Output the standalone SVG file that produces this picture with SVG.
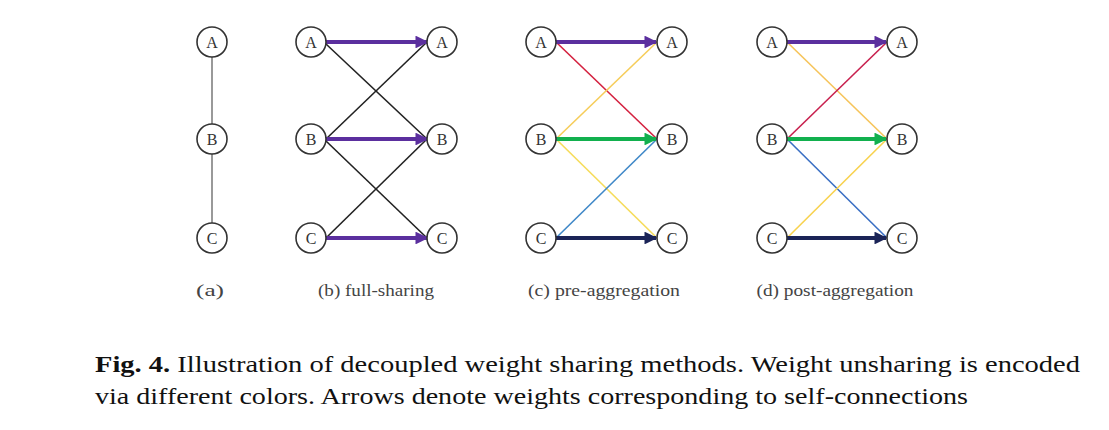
<svg xmlns="http://www.w3.org/2000/svg" width="1109" height="430" viewBox="0 0 1109 430">
<style>
.node circle{fill:#fff;stroke:#333;stroke-width:1.6}
.node text{font-family:"Liberation Serif",serif;font-size:16px;fill:#333;text-anchor:middle;dominant-baseline:central}
.sub{font-family:"Liberation Serif",serif;font-size:17px;fill:#444;text-anchor:middle}
.cap{font-family:"Liberation Serif",serif;font-size:24px;fill:#111}
.thin{stroke-width:1.6;fill:none}
.arr{stroke-width:4;fill:none}
</style>
<defs>
<marker id="mP" viewBox="0 0 10 10" refX="9" refY="5" markerWidth="3.2" markerHeight="3.2" orient="auto" markerUnits="strokeWidth"><path d="M0,0 L10,5 L0,10 z" fill="#5b2f9e"/></marker>
<marker id="mG" viewBox="0 0 10 10" refX="9" refY="5" markerWidth="3.2" markerHeight="3.2" orient="auto" markerUnits="strokeWidth"><path d="M0,0 L10,5 L0,10 z" fill="#12b04e"/></marker>
<marker id="mN" viewBox="0 0 10 10" refX="9" refY="5" markerWidth="3.2" markerHeight="3.2" orient="auto" markerUnits="strokeWidth"><path d="M0,0 L10,5 L0,10 z" fill="#1b2457"/></marker>
</defs>
<rect width="1109" height="430" fill="#fff"/>
<g id="connectors">
<line x1="212" y1="57" x2="212" y2="124" stroke="#999" stroke-width="2"/>
<line x1="212" y1="154" x2="212" y2="223" stroke="#999" stroke-width="2"/>
<line class="thin" x1="326" y1="44" x2="427" y2="139" stroke="#222"/>
<line class="thin" x1="326" y1="139" x2="427" y2="42" stroke="#222"/>
<line class="thin" x1="326" y1="141" x2="427" y2="238" stroke="#222"/>
<line class="thin" x1="326" y1="238" x2="427" y2="139" stroke="#222"/>
<line class="arr" x1="326" y1="42" x2="427" y2="42" stroke="#5b2f9e" marker-end="url(#mP)"/>
<line class="arr" x1="326" y1="139" x2="427" y2="139" stroke="#5b2f9e" marker-end="url(#mP)"/>
<line class="arr" x1="326" y1="238" x2="427" y2="238" stroke="#5b2f9e" marker-end="url(#mP)"/>
<line class="thin" x1="556" y1="42" x2="657" y2="139" stroke="#d4213f"/>
<line class="thin" x1="556" y1="139" x2="657" y2="42" stroke="#f6cd5a"/>
<line class="thin" x1="556" y1="139" x2="657" y2="238" stroke="#f6dc5a"/>
<line class="thin" x1="556" y1="238" x2="657" y2="139" stroke="#3f88c8"/>
<line class="arr" x1="556" y1="42" x2="656" y2="42" stroke="#5b2f9e" marker-end="url(#mP)"/>
<line class="arr" x1="556" y1="139" x2="656" y2="139" stroke="#12b04e" marker-end="url(#mG)"/>
<line class="arr" x1="556" y1="238" x2="656" y2="238" stroke="#1b2457" marker-end="url(#mN)"/>
<line class="thin" x1="787" y1="42" x2="887" y2="139" stroke="#f6c45a"/>
<line class="thin" x1="787" y1="139" x2="887" y2="42" stroke="#c8204e"/>
<line class="thin" x1="787" y1="139" x2="887" y2="238" stroke="#3a6fc4"/>
<line class="thin" x1="787" y1="238" x2="887" y2="139" stroke="#f8d24e"/>
<line class="arr" x1="787" y1="42" x2="886" y2="42" stroke="#5b2f9e" marker-end="url(#mP)"/>
<line class="arr" x1="787" y1="139" x2="886" y2="139" stroke="#12b04e" marker-end="url(#mG)"/>
<line class="arr" x1="787" y1="238" x2="886" y2="238" stroke="#1b2457" marker-end="url(#mN)"/>
</g>
<g id="a-A" class="node"><circle cx="212" cy="42" r="15"/><text x="212" y="42">A</text></g>
<g id="a-B" class="node"><circle cx="212" cy="139" r="15"/><text x="212" y="139">B</text></g>
<g id="a-C" class="node"><circle cx="212" cy="238" r="15"/><text x="212" y="238">C</text></g>
<g id="b-A1" class="node"><circle cx="311" cy="42" r="15"/><text x="311" y="42">A</text></g>
<g id="b-B1" class="node"><circle cx="311" cy="139" r="15"/><text x="311" y="139">B</text></g>
<g id="b-C1" class="node"><circle cx="311" cy="238" r="15"/><text x="311" y="238">C</text></g>
<g id="b-A2" class="node"><circle cx="442" cy="42" r="15"/><text x="442" y="42">A</text></g>
<g id="b-B2" class="node"><circle cx="442" cy="139" r="15"/><text x="442" y="139">B</text></g>
<g id="b-C2" class="node"><circle cx="442" cy="238" r="15"/><text x="442" y="238">C</text></g>
<g id="c-A1" class="node"><circle cx="541" cy="42" r="15"/><text x="541" y="42">A</text></g>
<g id="c-B1" class="node"><circle cx="541" cy="139" r="15"/><text x="541" y="139">B</text></g>
<g id="c-C1" class="node"><circle cx="541" cy="238" r="15"/><text x="541" y="238">C</text></g>
<g id="c-A2" class="node"><circle cx="672" cy="42" r="15"/><text x="672" y="42">A</text></g>
<g id="c-B2" class="node"><circle cx="672" cy="139" r="15"/><text x="672" y="139">B</text></g>
<g id="c-C2" class="node"><circle cx="672" cy="238" r="15"/><text x="672" y="238">C</text></g>
<g id="d-A1" class="node"><circle cx="772" cy="42" r="15"/><text x="772" y="42">A</text></g>
<g id="d-B1" class="node"><circle cx="772" cy="139" r="15"/><text x="772" y="139">B</text></g>
<g id="d-C1" class="node"><circle cx="772" cy="238" r="15"/><text x="772" y="238">C</text></g>
<g id="d-A2" class="node"><circle cx="902" cy="42" r="15"/><text x="902" y="42">A</text></g>
<g id="d-B2" class="node"><circle cx="902" cy="139" r="15"/><text x="902" y="139">B</text></g>
<g id="d-C2" class="node"><circle cx="902" cy="238" r="15"/><text x="902" y="238">C</text></g>
<g id="subcaptions">
<text class="sub" x="210" y="296" textLength="28" lengthAdjust="spacingAndGlyphs">(a)</text>
<text class="sub" x="376" y="296" textLength="116" lengthAdjust="spacingAndGlyphs">(b) full-sharing</text>
<text class="sub" x="604" y="296" textLength="152" lengthAdjust="spacingAndGlyphs">(c) pre-aggregation</text>
<text class="sub" x="835" y="296" textLength="157" lengthAdjust="spacingAndGlyphs">(d) post-aggregation</text>
</g>
<g id="caption">
<text class="cap" x="95" y="372" textLength="985" lengthAdjust="spacingAndGlyphs"><tspan font-weight="bold">Fig. 4.</tspan> Illustration of decoupled weight sharing methods. Weight unsharing is encoded</text>
<text class="cap" x="95" y="404" textLength="873" lengthAdjust="spacingAndGlyphs">via different colors. Arrows denote weights corresponding to self-connections</text>
</g>
</svg>
